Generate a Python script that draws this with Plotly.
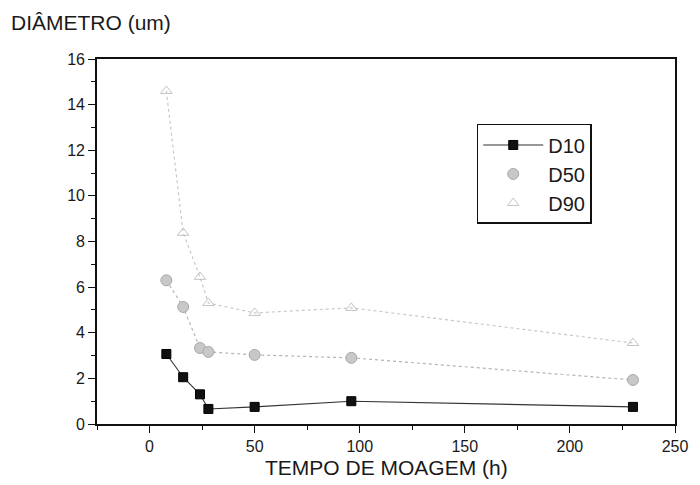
import plotly.graph_objects as go

# Milling time (h) and particle-size percentiles (um)
tempo_h = [8, 16, 24, 28, 50, 96, 230]
d10 = [3.07, 2.05, 1.3, 0.66, 0.75, 1.0, 0.75]
d50 = [6.3, 5.13, 3.33, 3.16, 3.03, 2.9, 1.93]
d90 = [14.6, 8.38, 6.45, 5.3, 4.87, 5.09, 3.55]

FONT = "Liberation Sans, Arial, sans-serif"

d10_marker = dict(symbol="square", size=9, color="#111111",
                  line=dict(color="#000000", width=1))
d50_marker = dict(symbol="circle", size=11, color="#c8c8c8",
                  line=dict(color="#a8a8a8", width=1))
d90_marker = dict(symbol="triangle-up-open", size=10, color="#c4c4c4",
                  line=dict(width=1))

fig = go.Figure()

fig.add_trace(go.Scatter(
    x=tempo_h, y=d10, name="D10", mode="lines+markers",
    line=dict(color="#333333", width=1.1), marker=d10_marker,
))
fig.add_trace(go.Scatter(
    x=tempo_h, y=d50, name="D50", mode="lines+markers", showlegend=False,
    line=dict(color="#b4b4b4", width=1.2, dash="dot"), marker=d50_marker,
))
fig.add_trace(go.Scatter(
    x=tempo_h, y=d90, name="D90", mode="lines+markers", showlegend=False,
    line=dict(color="#c8c8c8", width=1.2, dash="dot"), marker=d90_marker,
))
# legend keys for the dotted series show the symbol only
fig.add_trace(go.Scatter(x=[None], y=[None], name="D50", mode="markers",
                         marker=d50_marker))
fig.add_trace(go.Scatter(x=[None], y=[None], name="D90", mode="markers",
                         marker=d90_marker))

axis_common = dict(
    showgrid=False, zeroline=False,
    showline=True, linecolor="#111111", linewidth=1.6, mirror=True,
    ticks="outside", ticklen=7, tickwidth=1.4, tickcolor="#111111",
    tickfont=dict(family=FONT, size=16, color="#1a1a1a"),
)

fig.update_xaxes(
    range=[-25, 250], tick0=0, dtick=50,
    minor=dict(ticks="outside", dtick=25, tick0=0, ticklen=4,
               tickwidth=1.2, tickcolor="#111111"),
    **axis_common,
)
fig.update_yaxes(
    range=[0, 16], tick0=0, dtick=2,
    minor=dict(ticks="outside", dtick=1, tick0=0, ticklen=4,
               tickwidth=1.2, tickcolor="#111111"),
    **axis_common,
)

fig.add_annotation(
    text="DIÂMETRO (um)", xref="paper", yref="paper",
    x=-0.152, y=1.101, xanchor="left", yanchor="middle",
    showarrow=False, font=dict(family=FONT, size=21, color="#1a1a1a"),
)
fig.add_annotation(
    text="TEMPO DE MOAGEM (h)", xref="paper", yref="paper",
    x=0.5, y=-0.118, xanchor="center", yanchor="middle",
    showarrow=False, font=dict(family=FONT, size=21, color="#1a1a1a"),
)

fig.update_layout(
    width=700, height=485,
    margin=dict(l=97, r=17, t=59, b=61),
    paper_bgcolor="white", plot_bgcolor="white",
    showlegend=True,
    legend=dict(
        x=0.657, y=0.822, xanchor="left", yanchor="top",
        bordercolor="#111111", borderwidth=1.5, bgcolor="white",
        font=dict(family=FONT, size=20, color="#1a1a1a"),
        itemwidth=60, tracegroupgap=0,
    ),
)

fig.write_html("out.html")
